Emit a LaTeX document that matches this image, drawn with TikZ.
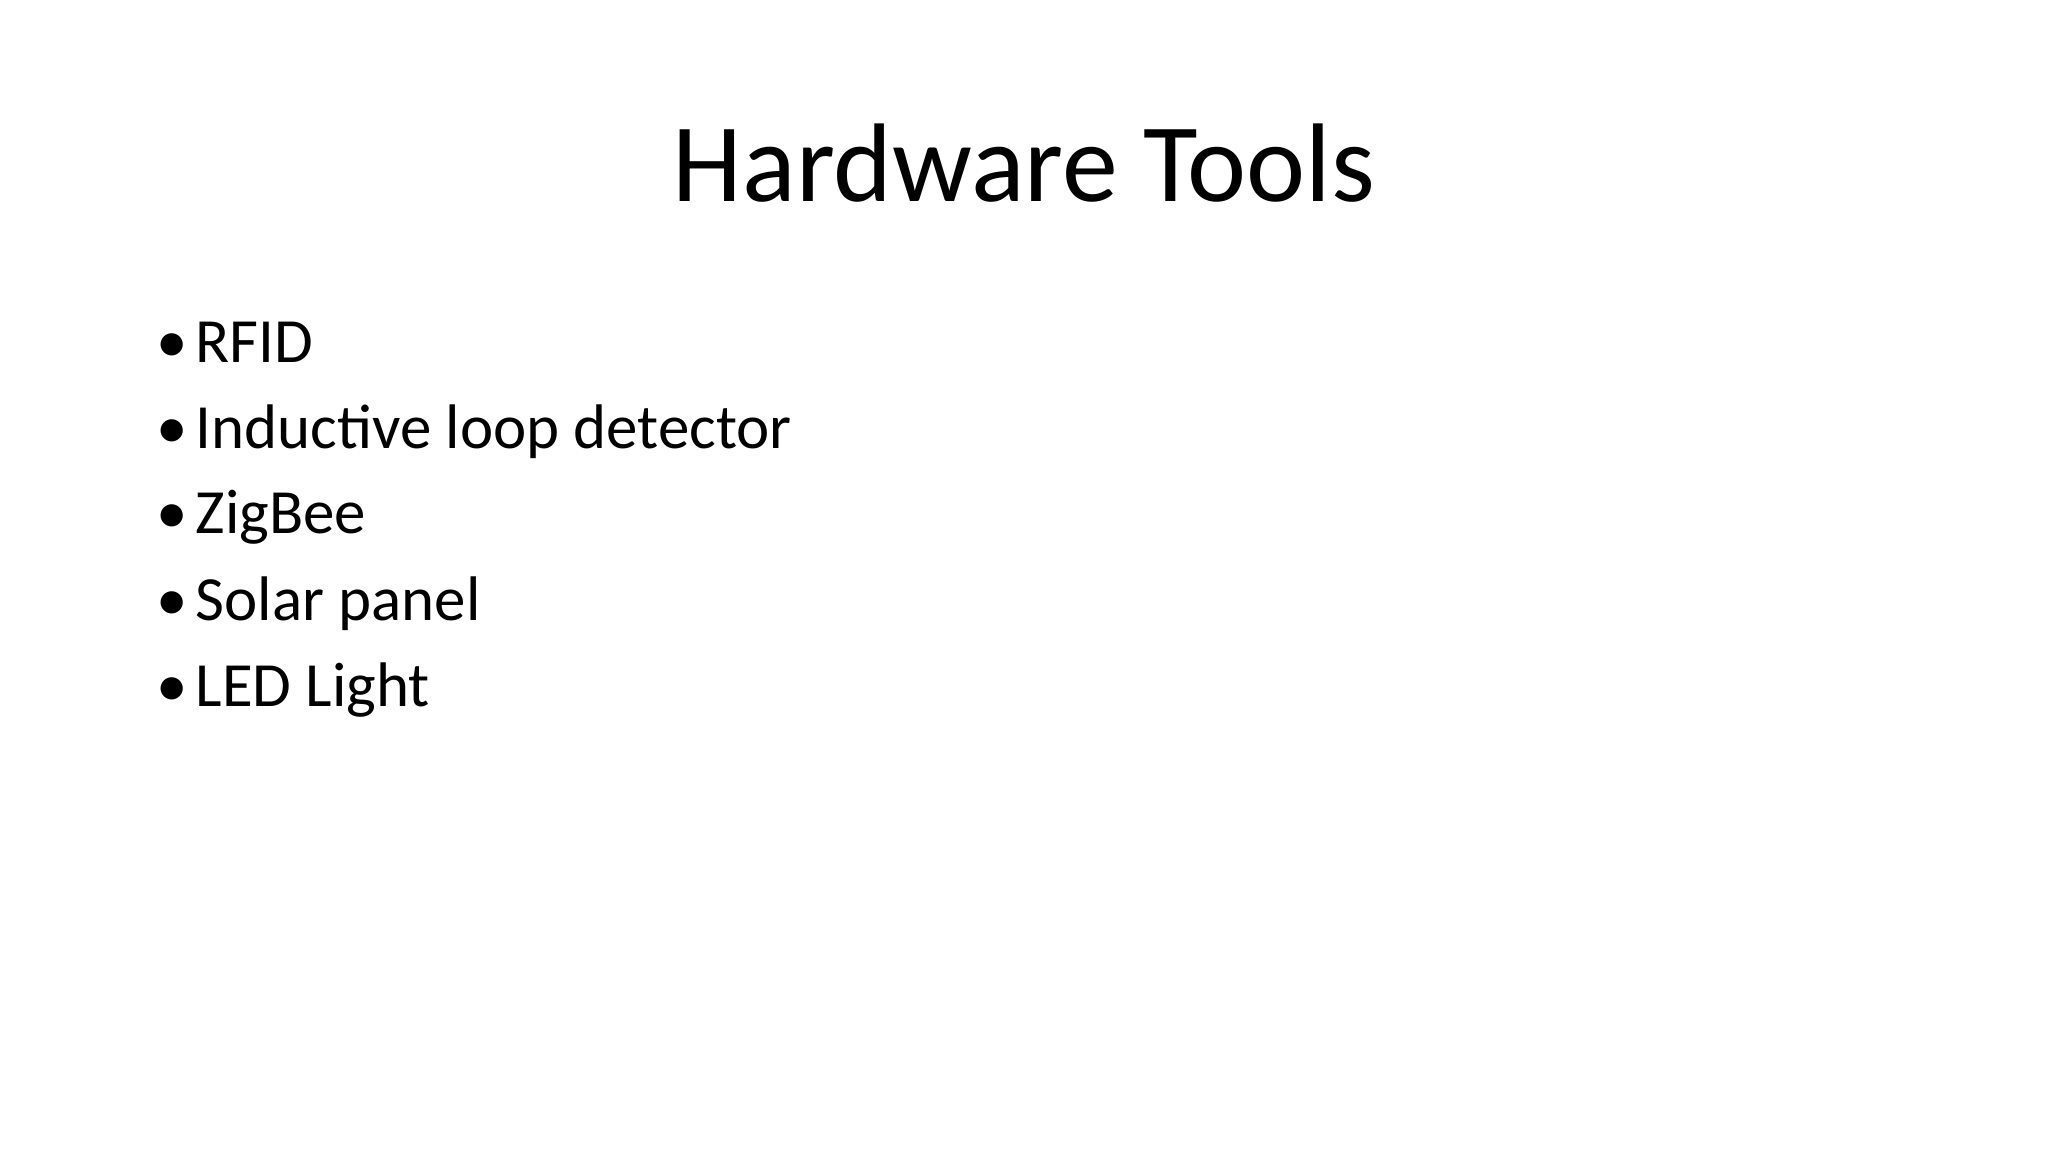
\documentclass[tikz,border=0pt]{standalone}
\usepackage{fontspec}
\setmainfont{Carlito}
\begin{document}
\begin{tikzpicture}[x=0.01cm,y=-0.01cm,
  title/.style={font=\fontsize{31.8}{38}\selectfont, anchor=base, inner sep=0},
  item/.style={font=\fontsize{17.9}{22}\selectfont, anchor=base west, inner sep=0},
  dot/.style={font=\fontsize{17.9}{22}\selectfont, anchor=base west, inner sep=0}]
\useasboundingbox[fill=white] (0,0) rectangle (2048,1152);
\node[title] (t) at (1024,202) {Hardware Tools};
\foreach \n/\y/\txt in {a/363/RFID, b/449/Inductive loop detector, c/534/ZigBee, d/620/Solar panel, e/706/LED Light}{
  \node[dot] (d\n) at (156,\y) {•};
  \node[item] (i\n) at (195,\y) {\txt};
}
\end{tikzpicture}
\end{document}
